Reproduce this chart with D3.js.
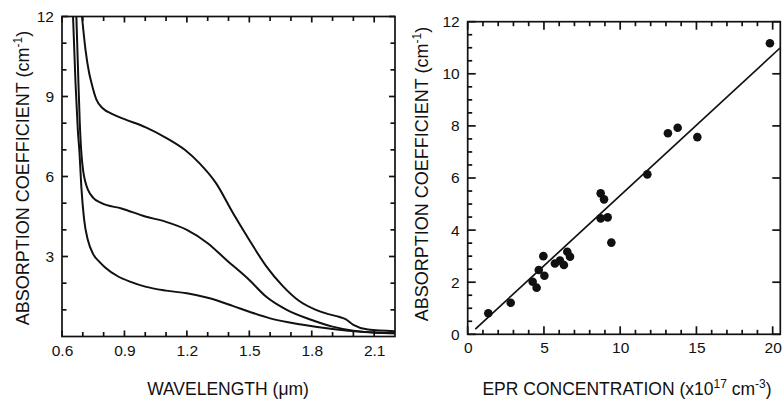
<!DOCTYPE html>
<html>
<head>
<meta charset="utf-8">
<script src="https://cdn.jsdelivr.net/npm/d3@7"></script>
<style>
  body { margin: 0; background: #fff; }
  svg text { font-family: Arial, "Liberation Sans", sans-serif; fill: #111; }
</style>
</head>
<body>
<svg id="chart" width="783" height="404"></svg>
<script>
// left panel: absorption spectra, three samples [wavelength um, coefficient cm-1]
const curveLow = [
  [0.653, 12], [0.665, 9.5], [0.676, 7.75], [0.684, 6.9], [0.693, 5.6], [0.706, 4.4],
  [0.725, 3.6], [0.749, 3.1], [0.78, 2.8], [0.806, 2.6], [0.87, 2.25], [0.93, 2.05],
  [1.0, 1.87], [1.1, 1.72], [1.2, 1.62], [1.3, 1.45], [1.42, 1.15], [1.5, 0.93],
  [1.6, 0.68], [1.75, 0.45], [1.9, 0.28], [2.05, 0.17], [2.2, 0.12]
];
const curveMid = [
  [0.669, 12], [0.677, 10], [0.685, 8.1], [0.692, 7], [0.701, 6.25], [0.712, 5.8],
  [0.725, 5.5], [0.75, 5.2], [0.79, 5.0], [0.886, 4.8], [1.0, 4.5], [1.1, 4.3],
  [1.2, 4.0], [1.3, 3.5], [1.39, 2.87], [1.5, 2.12], [1.58, 1.5], [1.68, 1.0],
  [1.8, 0.62], [1.9, 0.37], [2.0, 0.22], [2.1, 0.15], [2.2, 0.12]
];
const curveHigh = [
  [0.696, 12], [0.713, 10.75], [0.73, 9.9], [0.742, 9.5], [0.766, 8.87], [0.797, 8.55],
  [0.84, 8.35], [0.9, 8.15], [1.0, 7.85], [1.1, 7.45], [1.19, 7.0], [1.26, 6.5],
  [1.34, 5.75], [1.42, 4.65], [1.5, 3.62], [1.58, 2.65], [1.66, 1.9], [1.74, 1.33],
  [1.82, 1.0], [1.88, 0.84], [1.93, 0.74], [1.96, 0.66], [2.0, 0.44], [2.07, 0.26], [2.2, 0.2]
];
const wlTicks = [0.6, 0.9, 1.2, 1.5, 1.8, 2.1];
const absTicksLeft = [3, 6, 9, 12];

// right panel: EPR concentration (x10^17 cm-3) vs absorption coefficient
const eprConc = [1.35, 2.82, 4.26, 4.52, 4.66, 4.96, 5.03, 5.72, 6.05, 6.31, 6.53,
  6.71, 8.72, 8.94, 8.72, 9.18, 9.42, 11.78, 13.13, 13.77, 15.06, 19.82];
const absCoef = [0.81, 1.21, 2.02, 1.79, 2.47, 3.0, 2.25, 2.72, 2.83, 2.66, 3.17,
  2.98, 5.41, 5.18, 4.45, 4.49, 3.52, 6.14, 7.72, 7.93, 7.57, 11.17];
const fitLine = [[0.5, 0.2], [20.5, 11.0]];
const eprTicks = [0, 5, 10, 15, 20];
const absTicksRight = [0, 2, 4, 6, 8, 10, 12];

const svg = d3.select("#chart");

// inward tick marks along one side of a frame
function ticks(g, values, scale, side, len, edge) {
  g.append("g").selectAll("line")
    .data(values)
    .join("line")
    .attr("x1", d => side === "h" ? scale(d) : edge)
    .attr("x2", d => side === "h" ? scale(d) : edge + len)
    .attr("y1", d => side === "h" ? edge : scale(d))
    .attr("y2", d => side === "h" ? edge + len : scale(d))
    .attr("stroke", "#111")
    .attr("stroke-width", 1.7);
}

function drawFrame(g, x, y, opt) {
  const [x0, x1] = x.range();
  const [y0, y1] = y.range();
  const big = opt.majorLen, small = 4.5;

  ticks(g, opt.xMajor, x, "h", -big, y0);
  ticks(g, opt.xMinor, x, "h", -small, y0);
  ticks(g, opt.xMajor, x, "h", big, y1);
  ticks(g, opt.xMinor, x, "h", small, y1);
  ticks(g, opt.yMajor, y, "v", big, x0);
  ticks(g, opt.yMinor, y, "v", small, x0);
  ticks(g, opt.yMajor, y, "v", -big, x1);
  if (opt.yMinorRight) ticks(g, opt.yMinorRight, y, "v", -small, x1);

  // tick labels through d3 axes (lines hidden, only text kept)
  const bx = g.append("g").attr("transform", `translate(0,${y0})`)
    .call(d3.axisBottom(x).tickValues(opt.xMajor).tickSize(0).tickPadding(8).tickFormat(opt.xFmt));
  const ly = g.append("g").attr("transform", `translate(${x0},0)`)
    .call(d3.axisLeft(y).tickValues(opt.yLabels).tickSize(0).tickPadding(8).tickFormat(opt.yFmt));
  [bx, ly].forEach(ax => {
    ax.select(".domain").remove();
    ax.selectAll("line").remove();
    ax.attr("font-family", null);
    ax.selectAll("text").attr("font-size", 15.5);
  });

  g.append("rect")
    .attr("x", x0).attr("y", y1)
    .attr("width", x1 - x0).attr("height", y0 - y1)
    .attr("fill", "none").attr("stroke", "#111").attr("stroke-width", 1.7);
}

function yTitle(g, cx, cy) {
  const t = g.append("text")
    .attr("transform", `translate(${cx},${cy}) rotate(-90)`)
    .attr("text-anchor", "middle")
    .attr("font-size", 18);
  t.append("tspan").text("ABSORPTION COEFFICIENT (cm");
  t.append("tspan").attr("dy", -7).attr("font-size", 12).text("-1");
  t.append("tspan").attr("dy", 7).text(")");
}

// ---- left panel ----
const xL = d3.scaleLinear().domain([0.6, 2.2]).range([62, 395]);
const yL = d3.scaleLinear().domain([0, 12]).range([336.5, 16.5]);
const left = svg.append("g");

left.append("clipPath").attr("id", "clipL")
  .append("rect").attr("x", 62).attr("y", 16.5).attr("width", 333).attr("height", 320);

const line = d3.line().x(d => xL(d[0])).y(d => yL(d[1])).curve(d3.curveMonotoneX);
[curveLow, curveMid, curveHigh].forEach(c => {
  left.append("path")
    .attr("d", line(c))
    .attr("clip-path", "url(#clipL)")
    .attr("fill", "none").attr("stroke", "#111").attr("stroke-width", 2);
});

drawFrame(left, xL, yL, {
  majorLen: 6,
  xMajor: wlTicks,
  xMinor: d3.range(7, 22).filter(v => v % 3 !== 0).map(v => v / 10),
  xFmt: d3.format(".1f"),
  yMajor: absTicksLeft,
  yMinor: d3.range(1, 12).filter(v => v % 3 !== 0),
  yMinorRight: d3.range(1, 12).filter(v => v % 3 !== 0),
  yFmt: d3.format("d"),
  yLabels: absTicksLeft
});

yTitle(left, 29, 178);
left.append("text").attr("x", 228).attr("y", 395)
  .attr("text-anchor", "middle").attr("font-size", 17.5)
  .text("WAVELENGTH (μm)");

// ---- right panel ----
const xR = d3.scaleLinear().domain([0, 20.5]).range([467.7, 780.3]);
const yR = d3.scaleLinear().domain([0, 12]).range([334.3, 21.7]);
const right = svg.append("g");

right.append("path")
  .attr("d", d3.line().x(d => xR(d[0])).y(d => yR(d[1]))(fitLine))
  .attr("fill", "none").attr("stroke", "#111").attr("stroke-width", 1.7);

right.selectAll("circle.pt")
  .data(d3.zip(eprConc, absCoef))
  .join("circle")
  .attr("class", "pt")
  .attr("cx", d => xR(d[0]))
  .attr("cy", d => yR(d[1]))
  .attr("r", 4.3)
  .attr("fill", "#111");

drawFrame(right, xR, yR, {
  majorLen: 8,
  xMajor: eprTicks,
  xMinor: d3.range(1, 21).filter(v => v % 5 !== 0),
  xFmt: d3.format("d"),
  yMajor: absTicksRight,
  yMinor: d3.range(1, 24).filter(v => v % 4 !== 0).map(v => v / 2),
  yMinorRight: null,
  yFmt: d3.format("d"),
  yLabels: absTicksRight
});

yTitle(right, 428, 174);
const tr = right.append("text").attr("x", 627).attr("y", 395)
  .attr("text-anchor", "middle").attr("font-size", 17.5);
tr.append("tspan").text("EPR CONCENTRATION (x10");
tr.append("tspan").attr("dy", -7).attr("font-size", 12).text("17");
tr.append("tspan").attr("dy", 7).text(" cm");
tr.append("tspan").attr("dy", -7).attr("font-size", 12).text("-3");
tr.append("tspan").attr("dy", 7).text(")");
</script>
</body>
</html>
